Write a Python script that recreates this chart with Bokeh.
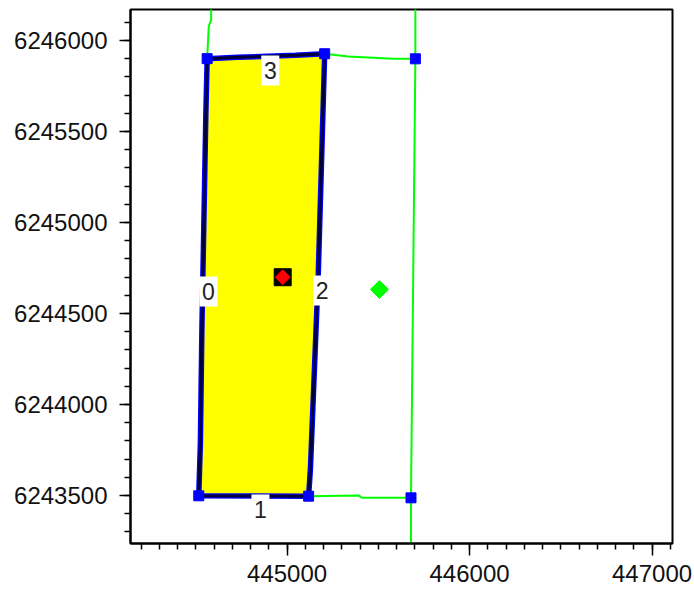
import numpy as np
from bokeh.plotting import figure
from bokeh.models import ColumnDataSource, FixedTicker, BasicTickFormatter, Range1d
from bokeh.core.properties import value
from bokeh.embed import file_html
from bokeh.resources import INLINE

# --- data ---
# parcel polygon (order: edge 0 left, 1 bottom, 2 right, 3 top)
poly_x = [444562, 444555, 444544, 444533, 444525, 444516, 445118, 445128, 445171, 445206, 445045, 444728]
poly_y = [6245900, 6245599, 6244995, 6244401, 6243791, 6243498, 6243496, 6243648, 6244720, 6245927, 6245918, 6245907]

# vertex markers
vert_x = [444562, 444516, 445118, 445206, 445703, 445679]
vert_y = [6245900, 6243498, 6243496, 6245927, 6245899, 6243487]

# neighbouring boundary lines (green)
green_xs = [
    [444584, 444584, 444571, 444562],
    [445206, 445336, 445582, 445703],
    [445703, 445703, 445679, 445679],
    [445118, 445392, 445411, 445679],
]
green_ys = [
    [6246300, 6246110, 6246080, 6245900],
    [6245927, 6245912, 6245900, 6245899],
    [6246300, 6245899, 6243487, 6243000],
    [6243496, 6243500, 6243487, 6243487],
]

# centroid markers
red_x, red_y = [444976], [6244699]
green_pt_x, green_pt_y = [445506], [6244632]

# edge labels
lab_x = [444569, 444854, 445192, 444908]
lab_y = [6244621, 6243423, 6244626, 6245835]
lab_t = ["0", "1", "2", "3"]

# ticks
x_major = [445000, 446000, 447000]
x_minor = list(range(444200, 447200, 100))
y_major = [6243500, 6244000, 6244500, 6245000, 6245500, 6246000]
y_minor = list(range(6243300, 6246200, 100))

p = figure(frame_width=542, frame_height=534,
           x_range=Range1d(444142, 447112), y_range=Range1d(6243236, 6246170),
           output_backend="svg", toolbar_location=None,
           min_border_left=130, min_border_right=20, min_border_top=9, min_border_bottom=47)
p.grid.visible = False
p.outline_line_color = "black"
p.outline_line_width = 2
p.background_fill_color = "white"
p.border_fill_color = "white"

p.multi_line(green_xs, green_ys, line_color="#00ff00", line_width=2)

p.patch(poly_x, poly_y, fill_color="#ffff00", line_color="#0000ff", line_width=5.5)
p.line(poly_x + poly_x[:1], poly_y + poly_y[:1], line_color="#000038", line_width=3)

p.scatter(vert_x, vert_y, marker="square", size=10, fill_color="#0000ff", line_color="#0000ff")

p.scatter(red_x, red_y, marker="square", size=17, fill_color="black", line_color="black")
p.scatter(red_x, red_y, marker="square", size=10.5, angle=np.pi / 4, fill_color="#ff0000", line_color="#ff0000")
p.scatter(green_pt_x, green_pt_y, marker="square", size=12.7, angle=np.pi / 4, fill_color="#00ff00", line_color="#00ff00")

src = ColumnDataSource(dict(x=lab_x, y=lab_y, t=lab_t))
p.rect(x="x", y="y", width=18, height=30, width_units="screen", height_units="screen",
       fill_color="white", line_color=None, source=src)
p.text(x="x", y="y", text="t", source=src, text_align="center", text_baseline="middle",
       text_font=value("Liberation Sans"), text_font_size="23px", text_color="#222222")

for ax in (p.xaxis[0], p.yaxis[0]):
    ax.axis_line_color = "black"
    ax.axis_line_width = 2
    ax.major_tick_line_color = "black"
    ax.minor_tick_line_color = "black"
    ax.major_tick_line_width = 1.5
    ax.minor_tick_line_width = 1.5
    ax.major_tick_in = 0
    ax.minor_tick_in = 0
    ax.minor_tick_out = 6
    ax.major_label_text_font = "Liberation Sans"
    ax.major_label_text_font_size = "24px"
    ax.major_label_text_color = "#111111"
    ax.formatter = BasicTickFormatter(use_scientific=False)

p.xaxis.ticker = FixedTicker(ticks=x_major, minor_ticks=x_minor)
p.yaxis.ticker = FixedTicker(ticks=y_major, minor_ticks=y_minor)
p.xaxis.major_tick_out = 12
p.yaxis.major_tick_out = 11
p.xaxis.major_label_standoff = 9
p.yaxis.major_label_standoff = 12

open("out.html", "w").write(file_html(p, INLINE))
